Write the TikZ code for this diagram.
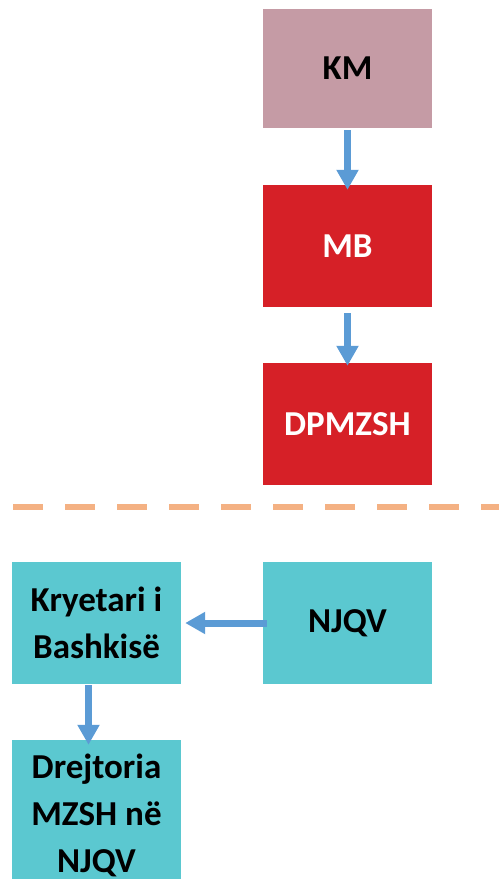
\documentclass[tikz,border=0pt]{standalone}
\usepackage{fontspec}
\setmainfont{Carlito}
\usetikzlibrary{arrows.meta}
\definecolor{kmrose}{HTML}{C59BA5}
\definecolor{mbred}{HTML}{D62027}
\definecolor{njqvteal}{HTML}{5BC8D0}
\definecolor{linkblue}{HTML}{5B9BD5}
\definecolor{lineorange}{HTML}{F4B183}

\begin{document}
\begin{tikzpicture}[x=1pt,y=-1pt,
    box/.style={minimum width=169pt,minimum height=122pt,inner sep=0pt,align=center,
      font=\fontsize{35}{47}\selectfont\bfseries},
    link/.style={draw=linkblue,line width=7pt,-{Triangle[width=21pt,length=20pt]}}]
  \useasboundingbox (0,0) rectangle (499,879);
  % central level
  \node[box,fill=kmrose,minimum height=119pt] (km) at (347.5,68.5) {KM};
  \foreach[count=\x] \y/\t in {246/MB,424/DPMZSH}
    \node[box,fill=mbred,text=white] (m\x) at (347.5,\y) {\t};
  \draw[lineorange,line width=6.5pt,dash pattern=on 30pt off 22pt] (13,507) -- (499,507);
  % local level
  \node[box,fill=njqvteal] (kryetari) at (96.5,623) {Kryetari i\\Bashkisë};
  \node[box,fill=njqvteal] (njqv) at (347.5,623) {NJQV};
  \node[box,fill=njqvteal,minimum height=150pt] (drejtoria) at (96.5,815) {Drejtoria\\MZSH në\\NJQV};
  \draw[link,shorten <=2pt,shorten >=-5pt] (km) -- (m1);
  \draw[link,shorten <=6pt,shorten >=-3pt] (m1) -- (m2);
  \draw[link,shorten <=-4pt,shorten >=4pt] (njqv) -- (kryetari);
  \draw[link,shorten <=1pt,shorten >=-5pt] ([xshift=-8pt]kryetari.south) -- ([xshift=-8pt]drejtoria.north);
\end{tikzpicture}
\end{document}
